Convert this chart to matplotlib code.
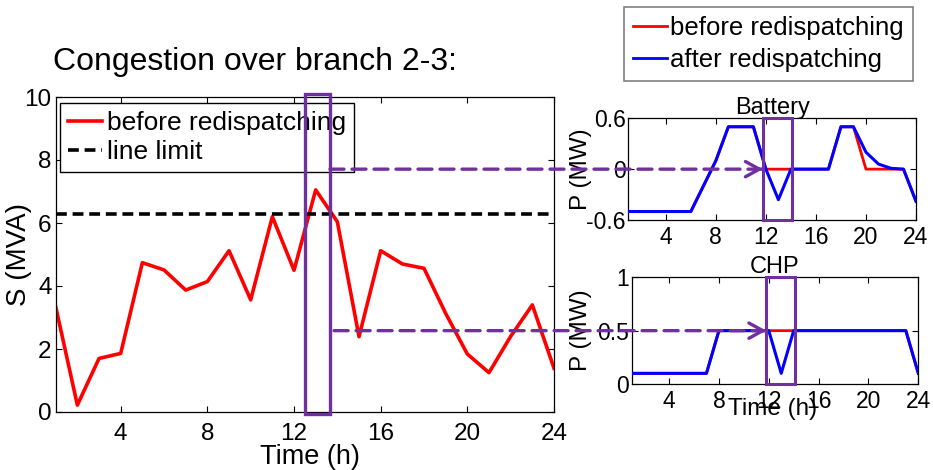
import matplotlib
matplotlib.use("Agg")
import matplotlib.pyplot as plt
from matplotlib.patches import Rectangle, ConnectionPatch
from matplotlib.lines import Line2D
from matplotlib.transforms import blended_transform_factory

plt.rcParams['font.family'] = ['Liberation Sans', 'DejaVu Sans']

hours = list(range(1, 25))
s_before = [3.34, 0.22, 1.70, 1.86, 4.74, 4.51, 3.87, 4.14, 5.12, 3.56, 6.20, 4.50,
            7.05, 6.04, 2.39, 5.12, 4.70, 4.56, 3.13, 1.84, 1.25, 2.40, 3.40, 1.39]
line_limit = 6.29

bat_before = [-0.5, -0.5, -0.5, -0.5, -0.5, -0.5, -0.2, 0.1, 0.5, 0.5, 0.5, 0.0,
              0.0, 0.0, 0.0, 0.0, 0.0, 0.5, 0.5, 0.0, 0.0, 0.0, 0.0, -0.38]
bat_after = [-0.5, -0.5, -0.5, -0.5, -0.5, -0.5, -0.2, 0.1, 0.5, 0.5, 0.5, 0.0,
             -0.36, 0.0, 0.0, 0.0, 0.0, 0.5, 0.5, 0.2, 0.06, 0.01, 0.0, -0.38]
chp_before = [0.1, 0.1, 0.1, 0.1, 0.1, 0.1, 0.1, 0.5, 0.5, 0.5, 0.5, 0.5,
              0.5, 0.5, 0.5, 0.5, 0.5, 0.5, 0.5, 0.5, 0.5, 0.5, 0.5, 0.1]
chp_after = [0.1, 0.1, 0.1, 0.1, 0.1, 0.1, 0.1, 0.5, 0.5, 0.5, 0.5, 0.5,
             0.1, 0.5, 0.5, 0.5, 0.5, 0.5, 0.5, 0.5, 0.5, 0.5, 0.5, 0.1]

xticks = [4, 8, 12, 16, 20, 24]
main_yticks = [0, 2, 4, 6, 8, 10]
bat_yticks = [-0.6, 0, 0.6]
bat_ylabels = ['-0.6', '0', '0.6']
chp_yticks = [0, 0.5, 1]
chp_ylabels = ['0', '0.5', '1']

PURPLE = '#7030A0'
W, H = 933, 470

fig = plt.figure(figsize=(W / 100, H / 100), dpi=100)

def frac(l, t, r, b):
    return [l / W, 1 - b / H, (r - l) / W, (b - t) / H]

ax = fig.add_axes(frac(55.7, 97, 554, 412))
axb = fig.add_axes(frac(628.3, 118.3, 916, 220))
axc = fig.add_axes(frac(631.7, 277.3, 918.3, 384))

def style(a, fs, xpad, ypad):
    a.tick_params(direction='in', length=4, width=0.8, top=True, right=True,
                  labelsize=fs)
    a.tick_params(axis='x', pad=xpad)
    a.tick_params(axis='y', pad=ypad)
    for s in a.spines.values():
        s.set_linewidth(0.9)
    a.set_xlim(1, 24)
    a.set_xticks(xticks)

# Main plot
ax.plot(hours, s_before, color='red', lw=2.6, label='before redispatching')
ax.axhline(line_limit, color='black', lw=2.6, ls=(0, (3, 1.6)), label='line limit')
ax.set_ylim(0, 10)
ax.set_yticks(main_yticks)
style(ax, 17.5, 8, 3)
ax.set_ylabel('S (MVA)', fontsize=20)
ax.yaxis.set_label_coords(-0.048, 0.5)
ax.set_xlabel('Time (h)', fontsize=19.5)
ax.xaxis.set_label_coords(0.51, -0.1)
ax.xaxis.label.set_va('top')
leg = ax.legend(loc='upper left', bbox_to_anchor=(0.008, 0.98), fontsize=19,
                frameon=True, fancybox=False, edgecolor='black', framealpha=1,
                handlelength=1.3, handletextpad=0.2, labelspacing=0.2,
                borderpad=0.3, borderaxespad=0)
leg.get_frame().set_linewidth(1.0)
ax.add_patch(Rectangle((12.5, -0.05), 1.16, 10.15, fill=False, edgecolor=PURPLE,
                       lw=2.4, clip_on=False, zorder=10))

# Battery
axb.plot(hours, bat_before, color='red', lw=2.0, zorder=2)
axb.plot(hours, bat_after, color='blue', lw=2.2, zorder=3)
axb.set_ylim(-0.6, 0.6)
axb.set_yticks(bat_yticks)
axb.set_yticklabels(bat_ylabels)
style(axb, 16.5, 4.5, 2)
axb.set_title('Battery', fontsize=17, pad=3)
axb.set_ylabel('P (MW)', fontsize=17.5)
axb.yaxis.set_label_coords(-0.126, 0.5)
axb.add_patch(Rectangle((11.8, -0.6), 2.27, 1.2, fill=False, edgecolor=PURPLE,
                        lw=2.2, clip_on=False, zorder=10))

# CHP
axc.plot(hours, chp_before, color='red', lw=2.0, zorder=2)
axc.plot(hours, chp_after, color='blue', lw=2.2, zorder=3)
axc.set_ylim(0, 1)
axc.set_yticks(chp_yticks)
axc.set_yticklabels(chp_ylabels)
style(axc, 16.5, 4.5, 2)
axc.set_title('CHP', fontsize=17, pad=3)
axc.set_ylabel('P (MW)', fontsize=17.5)
axc.yaxis.set_label_coords(-0.1385, 0.5)
axc.set_xlabel('Time (h)', fontsize=17.5)
axc.xaxis.set_label_coords(0.49, -0.13)
axc.xaxis.label.set_va('top')
axc.add_patch(Rectangle((11.8, 0), 2.3, 1.0, fill=False, edgecolor=PURPLE,
                        lw=2.2, clip_on=False, zorder=10))

# Arrows
def arrow(x0, xtip, yval, target):
    tr = blended_transform_factory(ax.transData, target.transData)
    line = ConnectionPatch(xyA=(x0, yval), coordsA=tr, xyB=(xtip, yval),
                           coordsB=target.transData, arrowstyle='-',
                           color=PURPLE, lw=2.4, linestyle=(0, (4.2, 2.4)),
                           zorder=20)
    fig.add_artist(line)
    head = ConnectionPatch(xyA=(xtip - 0.6, yval), coordsA=target.transData,
                           xyB=(xtip, yval), coordsB=target.transData,
                           arrowstyle='->,head_length=1.0,head_width=0.55',
                           color=PURPLE, lw=2.4, zorder=21)
    fig.add_artist(head)

arrow(13.66, 11.75, 0.0, axb)
arrow(13.85, 11.8, 0.5, axc)

# Titles / legends
fig.text(53 / W, 1 - 70 / H, 'Congestion over branch 2-3:', fontsize=23,
         va='baseline', ha='left')
handles = [Line2D([], [], color='red', lw=2.0), Line2D([], [], color='blue', lw=2.0)]
fl = fig.legend(handles, ['before redispatching', 'after redispatching'],
                loc='upper right', bbox_to_anchor=(913 / W, 1 - 7 / H),
                fontsize=18.5, frameon=True, fancybox=False, edgecolor='#808080',
                framealpha=1, handlelength=1.3, handletextpad=0.15,
                labelspacing=0.32, borderpad=0.35, borderaxespad=0)
fl.get_frame().set_linewidth(1.2)

fig.savefig('out.png', dpi=100)
